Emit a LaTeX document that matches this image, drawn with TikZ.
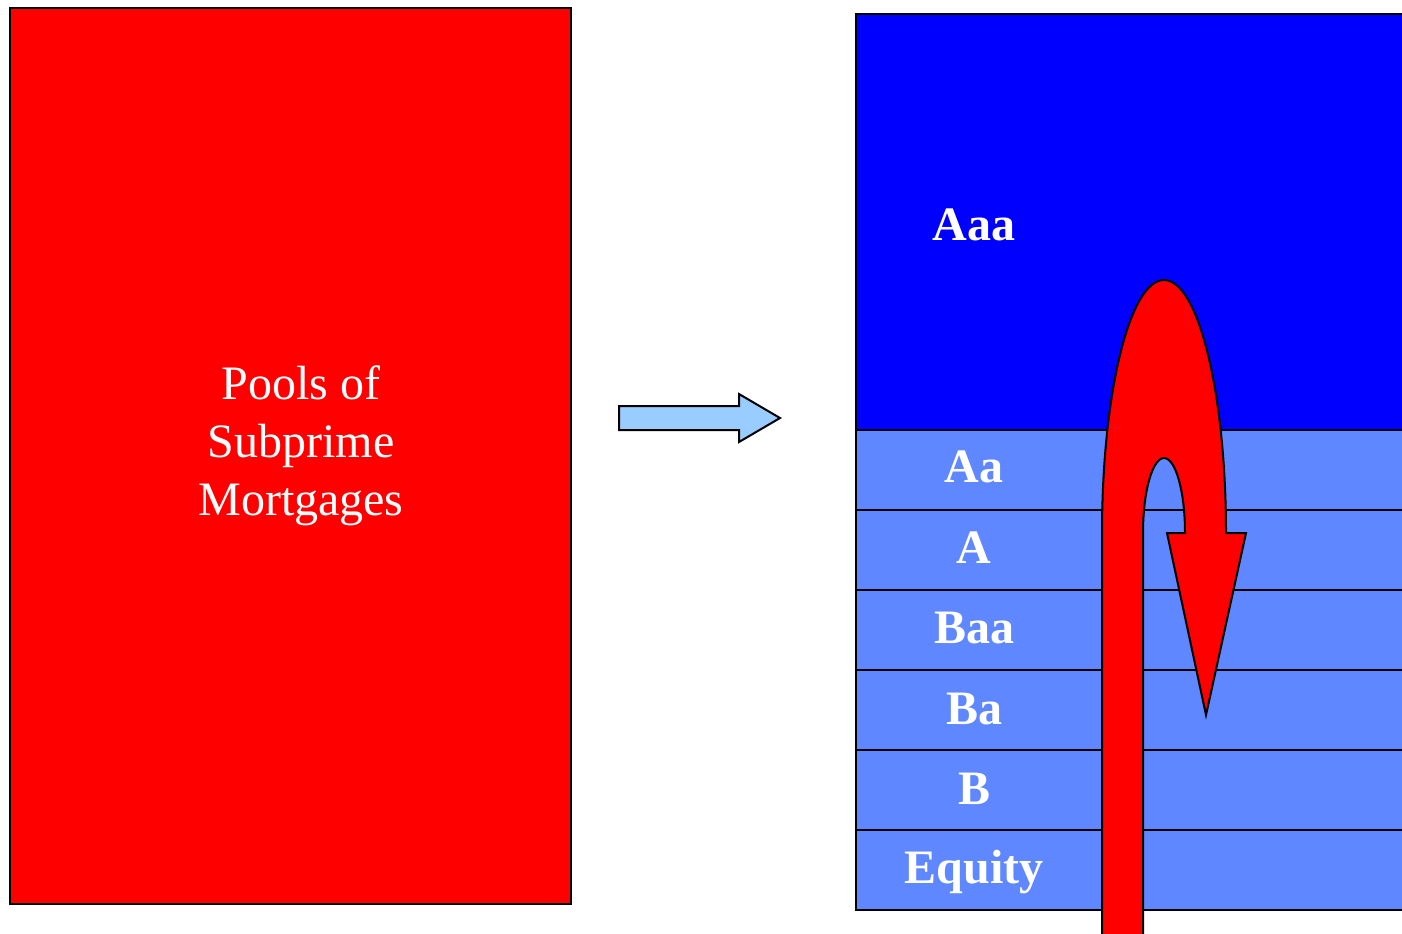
\documentclass[tikz,border=0pt]{standalone}
\usepackage{fontspec}
\setmainfont{Liberation Serif}
\definecolor{aaablue}{RGB}{0,0,255}
\definecolor{tranche}{RGB}{95,135,255}
\definecolor{lightarrow}{RGB}{153,204,255}
\tikzset{
  outline/.style={draw=black, line width=1pt},
  pooltext/.style={text=white, font=\fontsize{24}{29}\selectfont, align=center},
  ratingtext/.style={text=white, font=\fontsize{24}{29}\selectfont\bfseries},
  stripe/.style={outline, fill=tranche},
}
\begin{document}
\begin{tikzpicture}[x=0.5pt, y=-0.5pt]
\useasboundingbox (0,0) rectangle (1402,933);
\clip (0,0) rectangle (1402,933);
% pool
\draw[outline, fill=red] (10,8) rectangle (571,904);
\node[pooltext] (pool) at (301,446) {Pools of\\Subprime\\Mortgages};
% arrow
\draw[outline, fill=lightarrow, line join=miter]
  (619,406) -- (739,406) -- (739,394) -- (780,418) -- (739,442) -- (739,430) -- (619,430) -- cycle;
% tranches
\draw[outline, fill=aaablue] (856,14) rectangle (1420,430);
\foreach \t/\b in {430/510, 510/590, 590/670, 670/750, 750/830, 830/910}
  \draw[stripe] (856,\t) rectangle (1420,\b);
\node[ratingtext] (aaa) at (974,225) {Aaa};
\node[ratingtext] (aa) at (974,467) {Aa};
\node[ratingtext] (a) at (974,548) {A};
\node[ratingtext] (baa) at (974,628) {Baa};
\node[ratingtext] (ba) at (974,709) {Ba};
\node[ratingtext] (b) at (974,789) {B};
\node[ratingtext] (eq) at (974,872) {Equity};
% curved arrow
\draw[outline, fill=red, line join=miter]
  (1102,950) -- (1102,533) arc[start angle=180, end angle=0, x radius=62, y radius=-253]
  -- (1246,533) -- (1206,715) -- (1167,533) -- (1185,533)
  arc[start angle=0, end angle=180, x radius=21, y radius=-75]
  -- (1143,950) -- cycle;
\end{tikzpicture}
\end{document}
